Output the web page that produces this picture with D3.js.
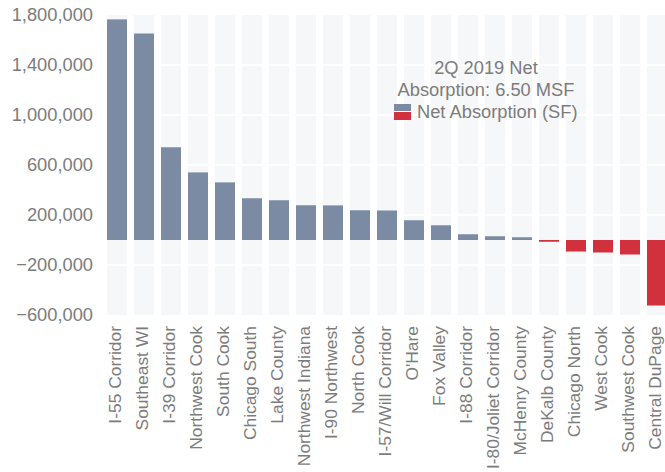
<!DOCTYPE html>
<html>
<head>
<meta charset="utf-8">
<script src="https://cdn.jsdelivr.net/npm/d3@7"></script>
<style>
  body { margin: 0; background: #fff; }
  text { font-family: "Liberation Sans", Arial, sans-serif; fill: #7c7c7c; }
</style>
</head>
<body>
<svg id="chart"></svg>
<script>
// data
let markets = ["I-55 Corridor", "Southeast WI", "I-39 Corridor", "Northwest Cook", "South Cook",
  "Chicago South", "Lake County", "Northwest Indiana", "I-90 Northwest", "North Cook",
  "I-57/Will Corridor", "O'Hare", "Fox Valley", "I-88 Corridor", "I-80/Joliet Corridor",
  "McHenry County", "DeKalb County", "Chicago North", "West Cook", "Southwest Cook", "Central DuPage"];
let absorption = [1765000, 1652000, 742000, 541000, 461000, 334000, 318000, 278000, 277000, 238000,
  236000, 158000, 118000, 46000, 30000, 22000, -14000, -92000, -100000, -116000, -524000];
let yTicks = [-600000, -200000, 200000, 600000, 1000000, 1400000, 1800000];
let legendTitle = ["2Q 2019 Net", "Absorption: 6.50 MSF"];
let legendLabel = "Net Absorption (SF)";

let width = 665, height = 472;
let blue = "#7b8ba4", red = "#d1313c", bg = "#f6f7f9";
let fontSize = "18.3px";

let svg = d3.select("#chart").attr("width", width).attr("height", height);

let x = d3.scaleBand()
  .domain(markets)
  .range([103.5, 670.5])
  .paddingInner(7 / 27)
  .paddingOuter(3.5 / 27);

let y = d3.scaleLinear().domain([-600000, 1800000]).range([315, 15]);

// background columns
svg.append("g")
  .selectAll("rect")
  .data(markets)
  .join("rect")
  .attr("x", d => x(d))
  .attr("width", x.bandwidth())
  .attr("y", y(1800000))
  .attr("height", y(-600000) - y(1800000))
  .attr("fill", bg);

// white gridlines cutting the columns
svg.append("g")
  .selectAll("line")
  .data(yTicks.slice(1, -1))
  .join("line")
  .attr("x1", 100)
  .attr("x2", width)
  .attr("y1", d => y(d))
  .attr("y2", d => y(d))
  .attr("stroke", "#fff")
  .attr("stroke-width", 2);

// bars
svg.append("g")
  .selectAll("rect")
  .data(absorption)
  .join("rect")
  .attr("x", (d, i) => x(markets[i]))
  .attr("width", x.bandwidth())
  .attr("y", d => y(Math.max(0, d)))
  .attr("height", d => Math.abs(y(d) - y(0)))
  .attr("fill", d => d < 0 ? red : blue);

// y axis
let yAxis = svg.append("g")
  .attr("transform", "translate(93,0)")
  .call(d3.axisLeft(y).tickValues(yTicks).tickSize(0).tickPadding(0).tickFormat(d3.format(",")));
yAxis.select(".domain").remove();
yAxis.selectAll("text")
  .style("font-size", fontSize)
  .attr("fill", null)
  .attr("font-family", null);

// x axis labels, rotated
let xAxis = svg.append("g")
  .attr("transform", "translate(0,326)")
  .call(d3.axisBottom(x).tickSize(0).tickPadding(0));
xAxis.select(".domain").remove();
xAxis.selectAll("text")
  .attr("fill", null)
  .attr("font-family", null)
  .style("font-size", "17.4px")
  .attr("text-anchor", "end")
  .attr("dy", "0.25em")
  .attr("y", 0)
  .attr("x", 0)
  .attr("transform", "rotate(-90)");

// legend
let legend = svg.append("g");
legend.selectAll("text.title")
  .data(legendTitle)
  .join("text")
  .attr("class", "title")
  .attr("x", 486)
  .attr("y", (d, i) => 74 + i * 22)
  .attr("text-anchor", "middle")
  .style("font-size", fontSize)
  .text(d => d);

legend.append("rect").attr("x", 394).attr("y", 104).attr("width", 17).attr("height", 7).attr("fill", blue);
legend.append("rect").attr("x", 394).attr("y", 112).attr("width", 17).attr("height", 8).attr("fill", red);
legend.append("text")
  .attr("x", 417)
  .attr("y", 118)
  .style("font-size", fontSize)
  .text(legendLabel);
</script>
</body>
</html>
